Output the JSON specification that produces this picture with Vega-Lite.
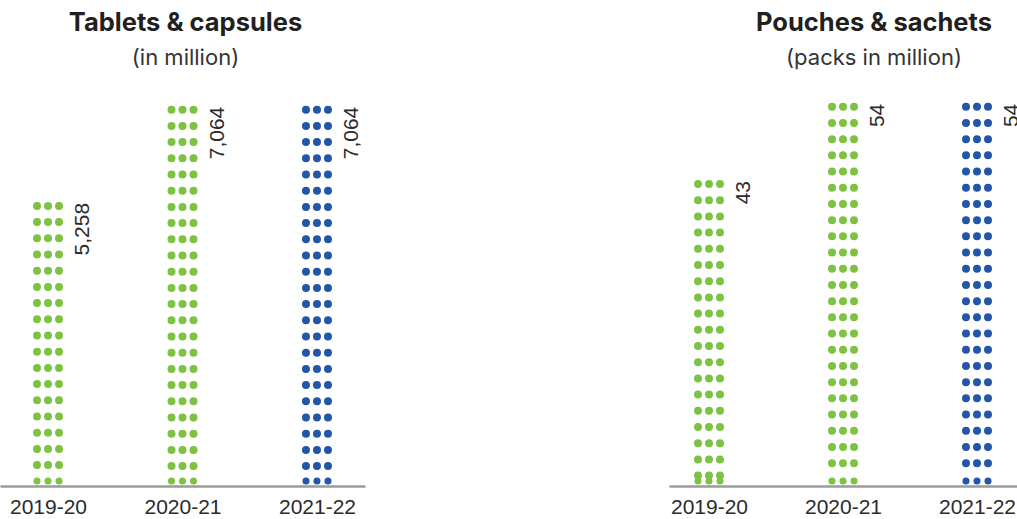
{
  "$schema": "https://vega.github.io/schema/vega-lite/v6.json",
  "padding": {"left": 0, "top": 10, "right": 0, "bottom": 0},
  "background": "white",
  "bounds": "flush",
  "spacing": 304,
  "config": {
    "view": {"stroke": null},
    "font": "Inter",
    "title": {
      "font": "Inter",
      "fontSize": 25.5,
      "fontWeight": "bold",
      "color": "#231f20",
      "anchor": "middle",
      "subtitleFont": "Inter",
      "subtitleFontSize": 22,
      "subtitleFontWeight": "normal",
      "subtitleColor": "#333333",
      "subtitlePadding": 12,
      "offset": 30
    },
    "axisX": {
      "domainColor": "#9b9b9b",
      "domainWidth": 2.5,
      "ticks": false,
      "tickSize": 0,
      "grid": false,
      "labelAngle": 0,
      "labelFont": "Liberation Sans",
      "labelFontSize": 21,
      "labelColor": "#2b2b2b",
      "labelPadding": 10,
      "title": null
    }
  },
  "datasets": {
    "tablets": [
      {"year": "2019-20", "value": 5258},
      {"year": "2020-21", "value": 7064},
      {"year": "2021-22", "value": 7064}
    ],
    "pouches": [
      {"year": "2019-20", "value": 43},
      {"year": "2020-21", "value": 54},
      {"year": "2021-22", "value": 54}
    ]
  },
  "hconcat": [
    {
      "width": 365,
      "height": 387,
      "title": {"text": "Tablets & capsules", "subtitle": "(in million)", "dx": 3},
      "data": {"name": "tablets"},
      "encoding": {
        "x": {"field": "year", "type": "ordinal", "scale": {"type": "point", "padding": 0.357}},
        "y": {"field": "value", "type": "quantitative", "scale": {"domain": [0, 7265], "nice": false}, "axis": null},
        "color": {"field": "year", "type": "nominal", "scale": {"domain": ["2019-20", "2020-21", "2021-22"], "range": ["#7dc242", "#7dc242", "#2356a8"]}, "legend": null}
      },
      "layer": [
        {"mark": {"type": "rule", "strokeWidth": 8, "strokeCap": "round", "strokeDash": [0, 16.2], "xOffset": -11, "y2Offset": -10}, "encoding": {"y2": {"datum": 0}}},
        {"mark": {"type": "rule", "strokeWidth": 8, "strokeCap": "round", "strokeDash": [0, 16.2], "xOffset": 0, "y2Offset": -10}, "encoding": {"y2": {"datum": 0}}},
        {"mark": {"type": "rule", "strokeWidth": 8, "strokeCap": "round", "strokeDash": [0, 16.2], "xOffset": 11, "y2Offset": -10}, "encoding": {"y2": {"datum": 0}}},
        {"mark": {"type": "point", "shape": "circle", "filled": true, "size": 50, "opacity": 1, "xOffset": -11, "yOffset": -5}, "encoding": {"y": {"datum": 0}}},
        {"mark": {"type": "point", "shape": "circle", "filled": true, "size": 50, "opacity": 1, "xOffset": 0, "yOffset": -5}, "encoding": {"y": {"datum": 0}}},
        {"mark": {"type": "point", "shape": "circle", "filled": true, "size": 50, "opacity": 1, "xOffset": 11, "yOffset": -5}, "encoding": {"y": {"datum": 0}}},
        {
          "mark": {"type": "text", "angle": -90, "align": "right", "baseline": "top", "dx": 3, "dy": 24.4, "font": "Liberation Sans", "fontSize": 21, "clip": true},
          "encoding": {"text": {"field": "value", "type": "quantitative", "format": ","}, "color": {"value": "#2b2b2b"}}
        }
      ]
    },
    {
      "width": 348,
      "height": 387,
      "title": {"text": "Pouches & sachets", "subtitle": "(packs in million)", "dx": 31},
      "data": {"name": "pouches"},
      "encoding": {
        "x": {"field": "year", "type": "ordinal", "scale": {"type": "point", "padding": 0.2985}},
        "y": {"field": "value", "type": "quantitative", "scale": {"domain": [0, 55.1], "nice": false}, "axis": null},
        "color": {"field": "year", "type": "nominal", "scale": {"domain": ["2019-20", "2020-21", "2021-22"], "range": ["#7dc242", "#7dc242", "#2356a8"]}, "legend": null}
      },
      "layer": [
        {"mark": {"type": "rule", "strokeWidth": 8, "strokeCap": "round", "strokeDash": [0, 16.2], "xOffset": -11, "y2Offset": -10}, "encoding": {"y2": {"datum": 0}}},
        {"mark": {"type": "rule", "strokeWidth": 8, "strokeCap": "round", "strokeDash": [0, 16.2], "xOffset": 0, "y2Offset": -10}, "encoding": {"y2": {"datum": 0}}},
        {"mark": {"type": "rule", "strokeWidth": 8, "strokeCap": "round", "strokeDash": [0, 16.2], "xOffset": 11, "y2Offset": -10}, "encoding": {"y2": {"datum": 0}}},
        {"mark": {"type": "point", "shape": "circle", "filled": true, "size": 50, "opacity": 1, "xOffset": -11, "yOffset": -5}, "encoding": {"y": {"datum": 0}}},
        {"mark": {"type": "point", "shape": "circle", "filled": true, "size": 50, "opacity": 1, "xOffset": 0, "yOffset": -5}, "encoding": {"y": {"datum": 0}}},
        {"mark": {"type": "point", "shape": "circle", "filled": true, "size": 50, "opacity": 1, "xOffset": 11, "yOffset": -5}, "encoding": {"y": {"datum": 0}}},
        {
          "mark": {"type": "text", "angle": -90, "align": "right", "baseline": "top", "dx": 3, "dy": 24.4, "font": "Liberation Sans", "fontSize": 21, "clip": true},
          "encoding": {"text": {"field": "value", "type": "quantitative", "format": ","}, "color": {"value": "#2b2b2b"}}
        }
      ]
    }
  ]
}
